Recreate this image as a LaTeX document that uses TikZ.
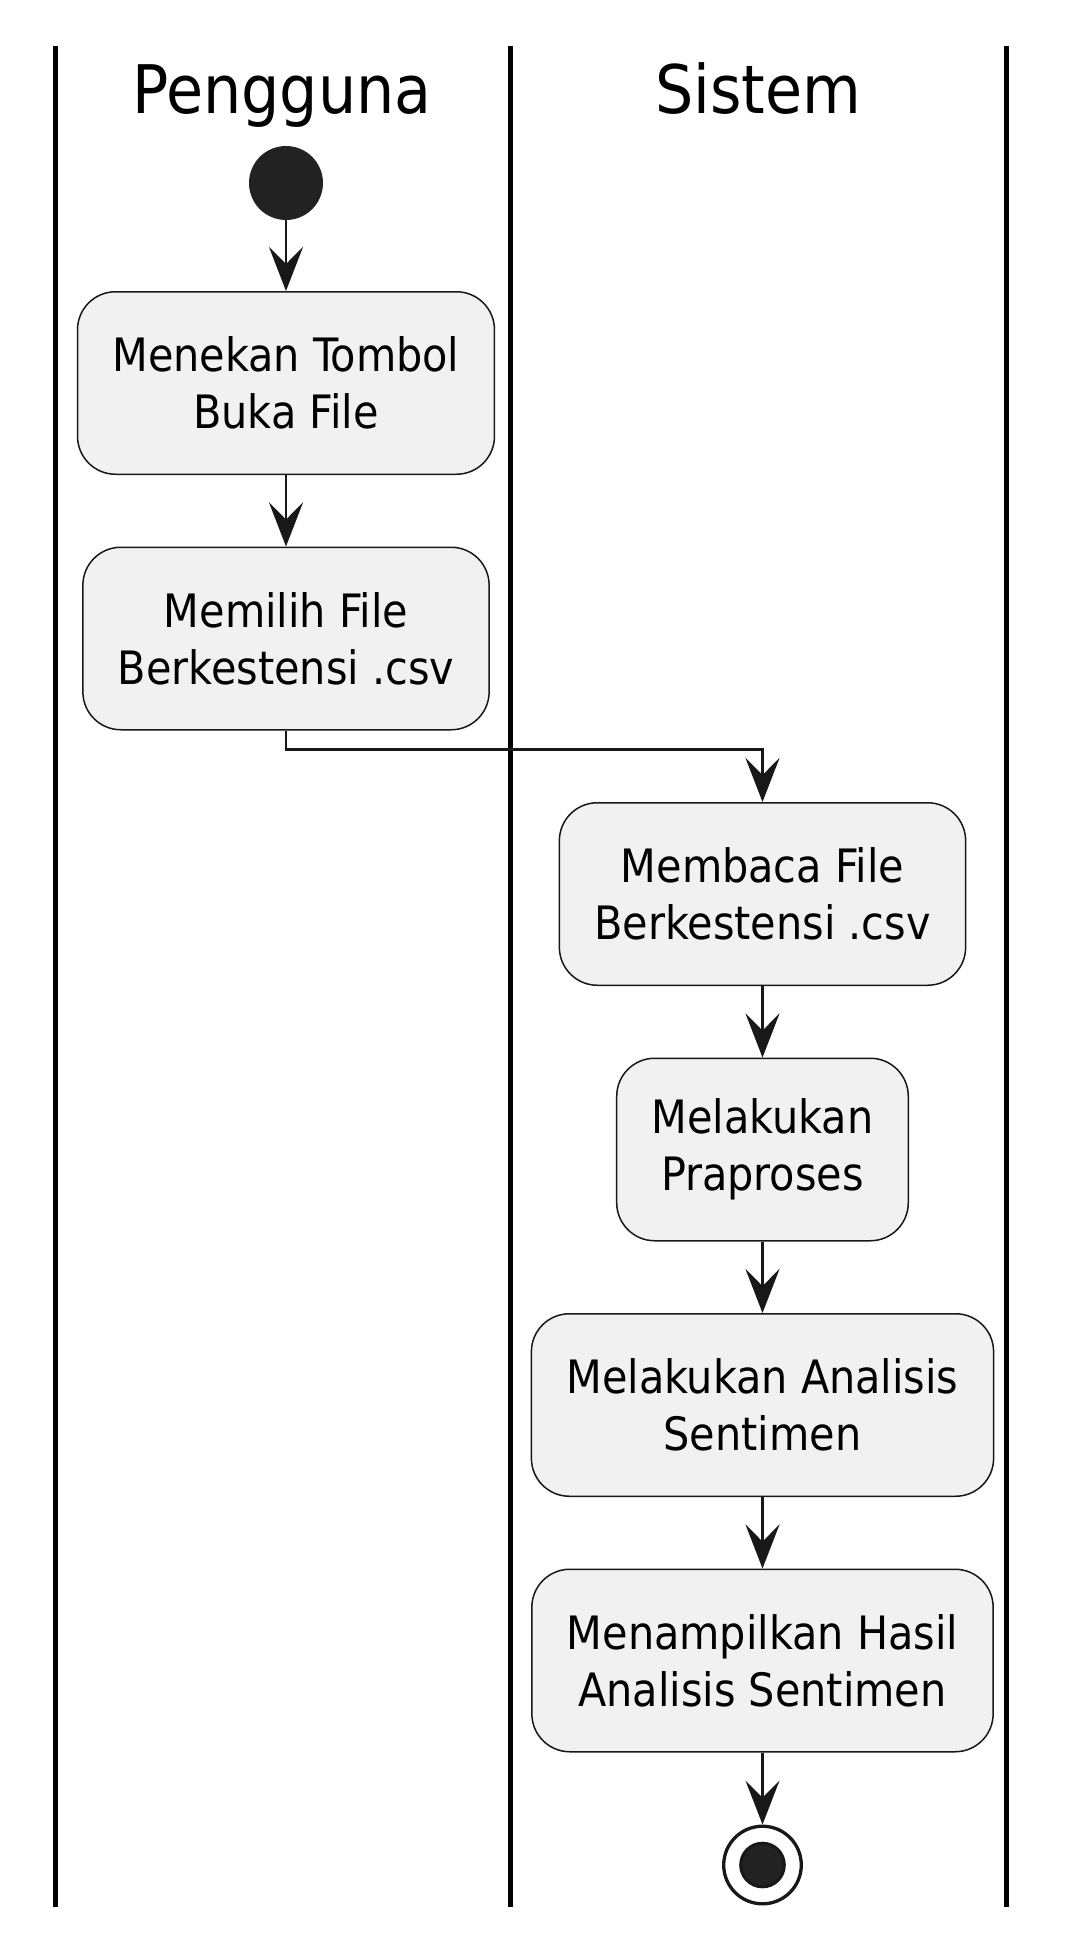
\documentclass[tikz,border=0pt]{standalone}
\usepackage{fontspec}
\setmainfont{DejaVu Sans Condensed}
\usetikzlibrary{arrows.meta}
\definecolor{actfill}{HTML}{F1F1F1}
\definecolor{actline}{HTML}{181818}
\definecolor{dotfill}{HTML}{222222}

\begin{document}
\begin{tikzpicture}[x=0.5pt, y=-0.5pt,
    act/.style={rectangle, rounded corners=19pt, draw=actline, line width=0.75pt,
        fill=actfill, align=center, inner xsep=17.5pt, minimum height=91.25pt,
        font=\fontsize{23}{28.5}\selectfont},
    flow/.style={-{Stealth[length=22pt, width=17pt, inset=8.5pt]}, draw=actline, line width=1.4pt},
    lane/.style={line width=2.5pt, black},
    lanetitle/.style={anchor=base, font=\fontsize{33.5}{36}\selectfont}]
    \useasboundingbox (0,0) rectangle (1076,1951);
    \pgfmathsetmacro{\dy}{255.5}

    % swimlane borders and titles
    \foreach \lx in {55,510,1006}
        \draw[lane] (\lx,46) -- (\lx,1907);
    \node[lanetitle] (pengguna) at (282,113) {Pengguna};
    \node[lanetitle] (sistem) at (758.5,113) {Sistem};

    \node[circle, fill=dotfill, inner sep=0pt, minimum size=37pt] (start) at (286,183) {}; % start dot
    \path (start) node[act] (tombol) at ++(0, 200) {Menekan Tombol\\Buka File};
    \path (tombol) node[act] (pilih) at ++(0, \dy) {Memilih File\\Berkestensi .csv};
    \path (pilih) node[act] (baca) at ++(476.5, \dy) {Membaca File\\Berkestensi .csv};
    \path (baca) node[act] (praproses) at ++(0, \dy) {Melakukan\\Praproses};
    \path (praproses) node[act] (analisis) at ++(0, \dy) {Melakukan Analisis\\Sentimen};
    \path (analisis) node[act] (hasil) at ++(0, \dy) {Menampilkan Hasil\\Analisis Sentimen};
    % end dot
    \path (hasil) node[circle, draw=actline, fill=white, line width=1.65pt, inner sep=0pt, minimum size=38.8pt] (stop) at ++(0, 204.5) {};
    \node[circle, draw=actline, fill=dotfill, line width=1.5pt, inner sep=0pt, minimum size=21.8pt] (stopdot) at (stop) {};

    % arrows
    \draw[flow] (start) -- (tombol);
    \draw[flow] (tombol) -- (pilih);
    \draw[flow] (pilih.south) -- ++(0, 19) -| (baca.north);
    \draw[flow] (baca) -- (praproses);
    \draw[flow] (praproses) -- (analisis);
    \draw[flow] (analisis) -- (hasil);
    \draw[flow] (hasil) -- (stop);
\end{tikzpicture}
\end{document}
